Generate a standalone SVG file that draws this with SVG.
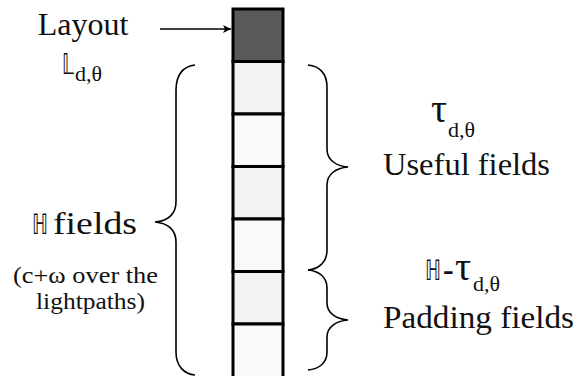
<svg xmlns="http://www.w3.org/2000/svg" width="578" height="376" viewBox="0 0 578 376">
<defs>
<style>
.t{font-family:"Liberation Serif","DejaVu Serif","DejaVu Sans",serif;fill:#111;}
.ds{font-family:"DejaVu Sans",serif;fill:#111;font-size:28px;}
.big{font-size:32px;}
.tau{font-size:40px;}
.mid{font-size:24px;}
.sub{font-size:22px;}
.cell{stroke:#000;stroke-width:3;}
.dark{fill:#595959;}
.l1{fill:#f2f2f2;}
.l2{fill:#f9f9f9;}
.brace{fill:none;stroke:#000;stroke-width:1.6;}
</style>
<marker id="ah" viewBox="0 0 10 10" refX="10" refY="5" markerWidth="10" markerHeight="8" markerUnits="userSpaceOnUse" orient="auto">
<path d="M0,0 L10,5 L0,10 L2.5,5 Z" fill="#000"/>
</marker>
</defs>
<rect width="578" height="376" fill="#fff"/>

<g id="column">
<rect id="cell0" class="cell dark" x="233" y="9" width="50" height="52.5"/>
<rect id="cell1" class="cell l1" x="233" y="61.5" width="50" height="52.5"/>
<rect id="cell2" class="cell l2" x="233" y="114" width="50" height="52.5"/>
<rect id="cell3" class="cell l1" x="233" y="166.5" width="50" height="52.5"/>
<rect id="cell4" class="cell l2" x="233" y="219" width="50" height="52.5"/>
<rect id="cell5" class="cell l1" x="233" y="271.5" width="50" height="52.5"/>
<rect id="cell6" class="cell l2" x="233" y="324" width="50" height="60"/>
</g>

<g id="connectors">
<line id="layout-arrow" x1="160" y1="29" x2="231" y2="29" stroke="#000" stroke-width="1.5" marker-end="url(#ah)"/>
<path id="brace-h" class="brace" d="M195,65 C184,66 176,74 176,90 L176,202 C176,214 168,221 155,222 C168,223 176,230 176,242 L176,352 C176,366 184,374 195,375"/>
<path id="brace-useful" class="brace" d="M308,65 C319,66 327,73 327,87 L327,149 C327,160 336,166 348,167 C336,168 327,174 327,185 L327,250 C327,262 319,269 308,270"/>
<path id="brace-padding" class="brace" d="M308,270 C319,271 327,277 327,288 L327,303 C327,313 336,319 348,320 C336,321 327,327 327,337 L327,352 C327,363 319,369 308,370"/>
</g>

<g id="label-layout">
<text class="t big" x="83" y="35" text-anchor="middle">Layout</text>
<text class="ds" x="62" y="74" textLength="12" lengthAdjust="spacingAndGlyphs">𝕃</text>
<text class="t sub" x="75" y="81">d,θ</text>
</g>

<g id="label-h-fields">
<text class="ds" x="32" y="234" textLength="16" lengthAdjust="spacingAndGlyphs">ℍ</text>
<text class="t big" x="53" y="234" textLength="84" lengthAdjust="spacingAndGlyphs">fields</text>
<text class="t mid" x="13" y="283" textLength="145" lengthAdjust="spacingAndGlyphs">(c+ω over the</text>
<text class="t mid" x="36" y="309" textLength="109" lengthAdjust="spacingAndGlyphs">lightpaths)</text>
</g>

<g id="label-useful">
<text class="t tau" x="431" y="122">τ</text>
<text class="t sub" x="448" y="137">d,θ</text>
<text class="t big" x="383" y="175" textLength="167" lengthAdjust="spacingAndGlyphs">Useful fields</text>
</g>

<g id="label-padding">
<text class="ds" x="425" y="280" textLength="16" lengthAdjust="spacingAndGlyphs">ℍ</text>
<text class="t big" x="443" y="280" font-weight="bold">-</text>
<text class="t tau" x="455" y="280">τ</text>
<text class="t sub" x="473" y="291">d,θ</text>
<text class="t big" x="383" y="328" textLength="191" lengthAdjust="spacingAndGlyphs">Padding fields</text>
</g>
</svg>
